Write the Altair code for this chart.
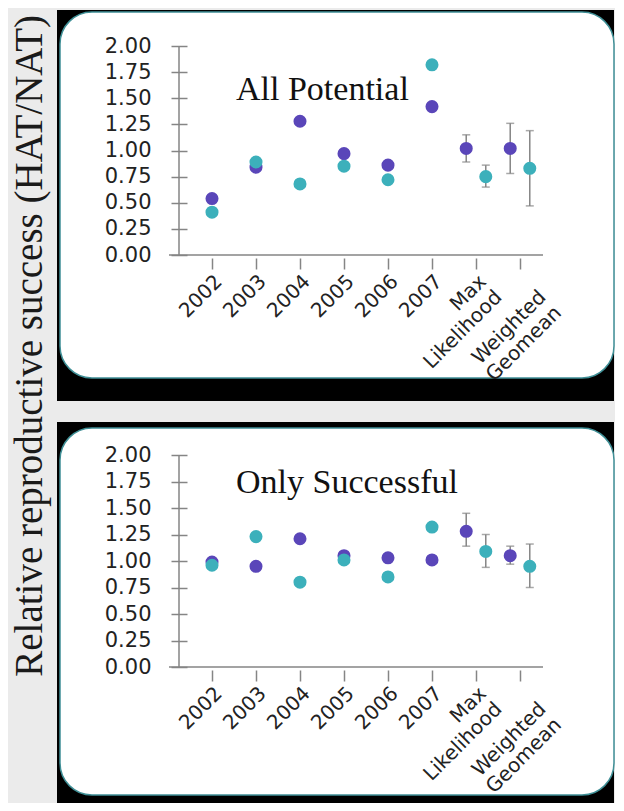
import altair as alt
import pandas as pd

# ---------------- data ----------------
categories = ["2002", "2003", "2004", "2005", "2006", "2007", "Max Likelihood", "Weighted Geomean"]
summary_categories = ["Max Likelihood", "Weighted Geomean"]
series_names = ["A", "B"]
series_colors = ["#5a46b9", "#3cb0bb"]
y_ticks = [0, 0.25, 0.5, 0.75, 1.0, 1.25, 1.5, 1.75, 2.0]
panel_titles = ["All Potential", "Only Successful"]
y_title = "Relative reproductive success (HAT/NAT)"

# All Potential
all_a = [0.54, 0.84, 1.28, 0.97, 0.86, 1.42, 1.02, 1.02]
all_b = [0.41, 0.89, 0.68, 0.85, 0.72, 1.82, 0.75, 0.83]
all_a_lo = [0.89, 0.78]
all_a_hi = [1.15, 1.26]
all_b_lo = [0.65, 0.47]
all_b_hi = [0.86, 1.19]

# Only Successful
succ_a = [0.99, 0.95, 1.21, 1.05, 1.03, 1.01, 1.28, 1.05]
succ_b = [0.96, 1.23, 0.80, 1.01, 0.85, 1.32, 1.09, 0.95]
succ_a_lo = [1.14, 0.97]
succ_a_hi = [1.45, 1.14]
succ_b_lo = [0.94, 0.75]
succ_b_hi = [1.25, 1.16]


def build_points(vals_a, vals_b):
    rows = []
    for s, vals in zip(series_names, [vals_a, vals_b]):
        for c, v in zip(categories, vals):
            slot = s if c in summary_categories else "both"
            rows.append({"category": c, "series": s, "slot": slot, "value": v})
    return pd.DataFrame(rows)


def build_errors(lo_a, hi_a, lo_b, hi_b):
    rows = []
    for s, los, his in zip(series_names, [lo_a, lo_b], [hi_a, hi_b]):
        for c, lo, hi in zip(summary_categories, los, his):
            rows.append({"category": c, "series": s, "slot": s, "lo": lo, "hi": hi})
    return pd.DataFrame(rows)


PLOT_W = 352
GRAY = "#858585"
LABEL_FONT = "DejaVu Sans"
LABEL_COLOR = "#222222"
LABEL_EXPR = (
    "datum.label == 'Weighted Geomean' ? ['', 'Weighted', 'Geomean'] "
    ": split(datum.label, ' ')"
)

x_scale = alt.Scale(domain=categories, paddingInner=0, paddingOuter=0)
x_axis = alt.Axis(
    domain=False, offset=3, tickSize=11, tickWidth=1.5, tickColor=GRAY,
    labelAngle=-45, labelAlign="right", labelBaseline="top", labelPadding=2,
    labelFont=LABEL_FONT, labelFontSize=20, labelColor=LABEL_COLOR,
    labelLineHeight=22, labelOverlap=False, labelExpr=LABEL_EXPR,
    grid=False, title=None, zindex=2,
)
y_scale = alt.Scale(domain=[0, 2], nice=False)
y_axis = alt.Axis(
    values=y_ticks, format=".2f", domain=False, offset=3, tickSize=16,
    tickWidth=1.5, tickColor=GRAY, labelPadding=20, labelFont=LABEL_FONT,
    labelFontSize=21, labelColor=LABEL_COLOR, grid=False, title=None, zindex=2,
)
off_scale = alt.Scale(domain=["A", "both", "B"], paddingInner=0, paddingOuter=0.75)


def panel(points_df, err_df, title, height, title_y, box):
    one = pd.DataFrame({"k": [0]})
    bx1, bx2, by1, by2, wy1, wy2 = box
    black = alt.Chart(one).mark_rect(color="#000000").encode(
        x=alt.value(bx1), x2=alt.value(bx2), y=alt.value(by1), y2=alt.value(by2))
    white = alt.Chart(one).mark_rect(
        fill="#ffffff", stroke="#3f8f96", strokeWidth=1.5, cornerRadius=32
    ).encode(x=alt.value(bx1 + 3), x2=alt.value(bx2), y=alt.value(wy1), y2=alt.value(wy2))
    yline = alt.Chart(one).mark_rule(color=GRAY, strokeWidth=1.5).encode(
        x=alt.value(-11), y=alt.value(0), y2=alt.value(height))
    xline = alt.Chart(one).mark_rule(color=GRAY, strokeWidth=1.5).encode(
        x=alt.value(-21), x2=alt.value(353), y=alt.value(height))
    ttl = alt.Chart(pd.DataFrame({"t": [title]})).mark_text(
        font="Liberation Serif", fontSize=34, align="left", baseline="alphabetic",
        color="#111111"
    ).encode(x=alt.value(46), y=alt.value(title_y), text="t:N")

    X = alt.X("category:N", scale=x_scale, sort=categories, axis=x_axis, title=None)
    XO = alt.XOffset("slot:N", scale=off_scale)

    ebar = alt.Chart(err_df).mark_rule(color=GRAY, strokeWidth=1.5).encode(
        x=X, xOffset=XO,
        y=alt.Y("lo:Q", scale=y_scale, axis=y_axis, title=None), y2="hi:Q")
    cap_lo = alt.Chart(err_df).mark_tick(color=GRAY, thickness=1.5, size=8, orient="horizontal").encode(
        x=X, xOffset=XO, y=alt.Y("lo:Q", scale=y_scale, axis=y_axis, title=None))
    cap_hi = alt.Chart(err_df).mark_tick(color=GRAY, thickness=1.5, size=8, orient="horizontal").encode(
        x=X, xOffset=XO, y=alt.Y("hi:Q", scale=y_scale, axis=y_axis, title=None))
    pts = alt.Chart(points_df).mark_circle(size=170, opacity=1).encode(
        x=X, xOffset=XO,
        y=alt.Y("value:Q", scale=y_scale, axis=y_axis, title=None),
        color=alt.Color("series:N", scale=alt.Scale(domain=series_names, range=series_colors), legend=None),
    )
    return alt.layer(black, white, xline, yline, ttl, ebar, cap_lo, cap_hi, pts).properties(
        width=PLOT_W, height=height)


top = panel(
    build_points(all_a, all_b),
    build_errors(all_a_lo, all_a_hi, all_b_lo, all_b_hi),
    panel_titles[0], 209, 54,
    (-133, 424, -36, 355, -34, 332),
)
bottom = panel(
    build_points(succ_a, succ_b),
    build_errors(succ_a_lo, succ_a_hi, succ_b_lo, succ_b_hi),
    panel_titles[1], 212, 38,
    (-133, 424, -33, 348, -27, 340),
)

chart = alt.vconcat(top, bottom, spacing=21).properties(
    title=alt.TitleParams(
        text=y_title, orient="left", anchor="end", font="Liberation Serif",
        fontSize=39, fontWeight="normal", color="#1a1a1a", offset=7, dx=-5,
    ),
    padding={"left": 2, "top": 2, "right": 0, "bottom": 0},
).configure(background="#ebebeb").configure_view(stroke=None)

chart.save("out.html", embed_options={"renderer": "svg", "actions": False})
